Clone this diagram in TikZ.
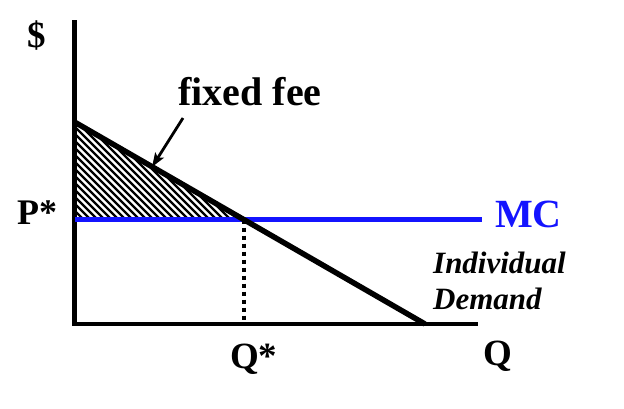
\documentclass[tikz,border=0pt]{standalone}
\usepackage{fontspec}
\setmainfont{Liberation Serif}
\usetikzlibrary{arrows.meta}
\definecolor{mcblue}{RGB}{20,20,255}
\begin{document}
\begin{tikzpicture}[x=1pt,y=-1pt,
  lbl/.style={font=\fontsize{37}{40}\selectfont\bfseries, inner sep=0pt, anchor=base west},
  axis/.style={line width=4.5pt},
  hatchline/.style={line width=2.3pt}]
\useasboundingbox (0,0) rectangle (624,408);
\coordinate (top) at (74.5,20);
\coordinate (O) at (74.5,324);
\coordinate (xend) at (478,324);
\coordinate (A) at (74.5,122);
\coordinate (B) at (425,324);
\coordinate (E) at (244,219.5);
\coordinate (Pm) at (74.5,219.5);
\coordinate (MCend) at (482,219.5);
\coordinate (Qs) at (244,324);
% hatch
\begin{scope}
  \clip (A) -- (E) -- (Pm) -- cycle;
  \foreach \i in {-120,-113,...,260}
    \draw[hatchline] (\i,100) -- ++(140,140);
\end{scope}
\draw[axis] (top) -- (O) -- (xend);
\draw[line width=3.5pt, dash pattern=on 4pt off 4pt] (E) -- (Qs);
\draw[line width=4.5pt, mcblue] (Pm) -- (MCend);
\draw[line width=5.5pt] (A) -- (B);
% labels
\node[lbl] (dollar) at (27,47) {\$};
\node[lbl, font=\fontsize{36}{40}\selectfont\bfseries] (pstar) at (17,224) {P*};
\node[lbl, font=\fontsize{40}{44}\selectfont\bfseries, anchor=base] (ff) at (250,105) {fixed fee};
\node[lbl, font=\fontsize{40}{44}\selectfont\bfseries, text=mcblue] (mc) at (495,227) {MC};
\node[lbl, font=\fontsize{31}{36}\selectfont\bfseries\itshape] (ind) at (433,273) {Individual};
\node[lbl, font=\fontsize{31}{36}\selectfont\bfseries\itshape] (dem) at (433,309) {Demand};
\node[lbl] (qstar) at (230,368) {Q*};
\node[lbl] (q) at (483,365) {Q};
\coordinate (arrstart) at (183,118);
\coordinate (arrtip) at (152,167);
\draw[line width=2.8pt, -{Stealth[length=14pt,width=10pt,inset=3pt]}] (arrstart) -- (arrtip);
\end{tikzpicture}
\end{document}
